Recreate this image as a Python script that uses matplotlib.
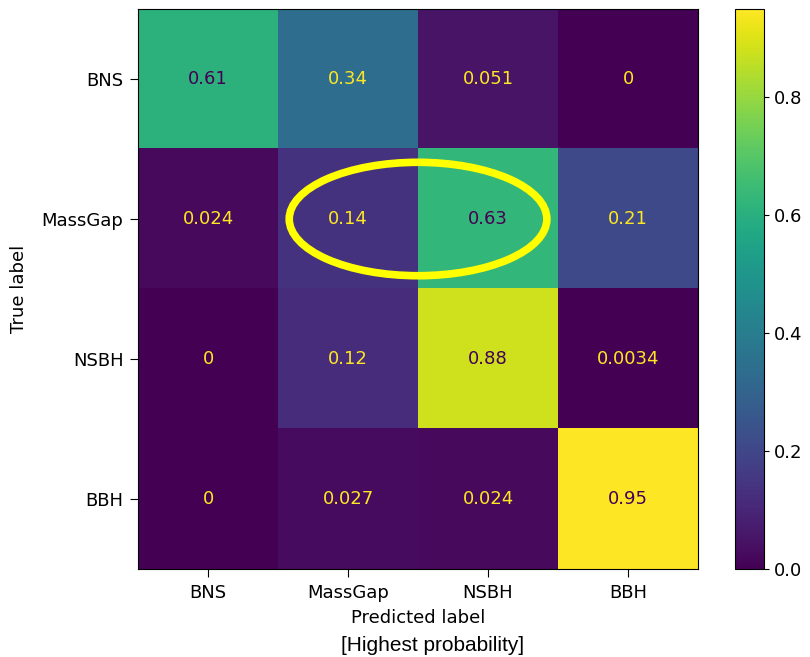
import numpy as np
import matplotlib
matplotlib.use("Agg")
import matplotlib.pyplot as plt
from matplotlib.patches import Ellipse

classes = ["BNS", "MassGap", "NSBH", "BBH"]
# normalised confusion matrix, rows = true label, cols = predicted label
row_bns = [0.61, 0.34, 0.051, 0.0]
row_massgap = [0.024, 0.14, 0.63, 0.21]
row_nsbh = [0.0, 0.12, 0.88, 0.0034]
row_bbh = [0.0, 0.027, 0.024, 0.95]
cm = np.array([row_bns, row_massgap, row_nsbh, row_bbh])

cmap = plt.get_cmap("viridis")
fs = 13

fig = plt.figure(figsize=(8.1, 6.57), dpi=100)
ax = fig.add_axes([0.1704, 0.1339, 0.6914, 0.8524])
cax = fig.add_axes([0.9074, 0.1339, 0.0358, 0.8524])

im = ax.imshow(cm, cmap=cmap, vmin=0, vmax=cm.max(), aspect="auto")
cb = fig.colorbar(im, cax=cax)
cb.set_ticks([0.0, 0.2, 0.4, 0.6, 0.8])
cb.ax.tick_params(labelsize=fs)

# cell text, light on dark and dark on light
thresh = (cm.max() + cm.min()) / 2.0
for i in range(cm.shape[0]):
    for j in range(cm.shape[1]):
        col = cmap(0) if cm[i, j] > thresh else cmap(256)
        ax.text(j, i, format(cm[i, j], ".2g"), ha="center", va="center",
                color=col, fontsize=fs)

ax.set_xticks(range(len(classes)))
ax.set_yticks(range(len(classes)))
ax.set_xticklabels(classes)
ax.set_yticklabels(classes)
ax.tick_params(labelsize=fs, length=5.5, pad=5)
ax.set_xlabel("Predicted label", fontsize=fs, labelpad=5)
ax.set_ylabel("True label", fontsize=fs, labelpad=10)

# highlight MassGap -> MassGap / NSBH confusion
ax.add_patch(Ellipse((1.5, 1.0), 1.84, 0.81, fill=False,
                     edgecolor="#ffff00", linewidth=5.5, zorder=5))

fig.text(0.534, 0.017, "[Highest probability]", ha="center", va="center",
         fontsize=15, family="Liberation Sans")

fig.savefig("out.png", dpi=100)
